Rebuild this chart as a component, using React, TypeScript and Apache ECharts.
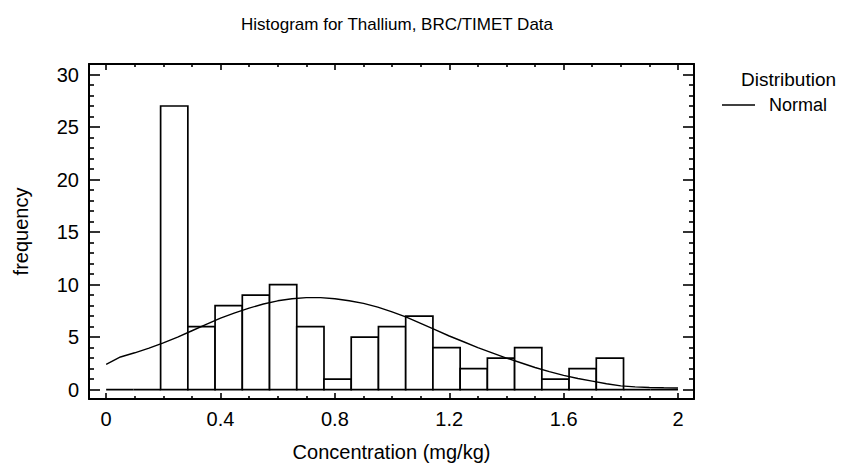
import React, { useEffect, useRef } from "react";
import * as echarts from "echarts";

// Histogram: 21 classes between 0 and 2 mg/kg
const classLow = 0;
const classHigh = 2;
const classCounts = [0, 0, 27, 6, 8, 9, 10, 6, 1, 5, 6, 7, 4, 2, 3, 4, 1, 2, 3, 0, 0];

// Fitted normal curve
const curveX = [0, 0.05, 0.1, 0.15, 0.2, 0.25, 0.3, 0.35, 0.4, 0.45, 0.5, 0.55, 0.6, 0.65, 0.7, 0.75, 0.8, 0.85, 0.9, 0.95, 1.0, 1.05, 1.1, 1.15, 1.2, 1.25, 1.3, 1.35, 1.4, 1.45, 1.5, 1.55, 1.6, 1.65, 1.7, 1.75, 1.8, 1.85, 1.9, 1.95, 2.0];
const curveY = [2.4, 3.1, 3.5, 3.95, 4.45, 5.0, 5.6, 6.2, 6.8, 7.3, 7.75, 8.15, 8.45, 8.65, 8.75, 8.75, 8.65, 8.45, 8.2, 7.85, 7.4, 6.9, 6.3, 5.7, 5.1, 4.55, 4.0, 3.5, 3.0, 2.55, 2.1, 1.7, 1.35, 1.05, 0.8, 0.55, 0.35, 0.25, 0.2, 0.17, 0.15];

const xMajorTicks = [0, 0.4, 0.8, 1.2, 1.6, 2];
const xMinorTicks = [0.1, 0.2, 0.3, 0.5, 0.6, 0.7, 0.9, 1.0, 1.1, 1.3, 1.4, 1.5, 1.7, 1.8, 1.9];
const yMajorTicks = [0, 5, 10, 15, 20, 25, 30];
const yMinorTicks = [1, 2, 3, 4, 6, 7, 8, 9, 11, 12, 13, 14, 16, 17, 18, 19, 21, 22, 23, 24, 26, 27, 28, 29];

const titleText = "Histogram for Thallium, BRC/TIMET Data";
const xName = "Concentration (mg/kg)";
const yName = "frequency";
const legendTitle = "Distribution";
const seriesName = "Normal";

const FONT = "'Liberation Sans', Arial, sans-serif";

export default function App() {
  const ref = useRef<HTMLDivElement>(null);

  useEffect(() => {
    if (!ref.current) return;
    const chart = echarts.init(ref.current, undefined, { renderer: "svg" });

    const w = (classHigh - classLow) / classCounts.length;
    const histData = classCounts.map((c, i) => [classLow + i * w, classLow + (i + 1) * w, c]);
    const curveData = curveX.map((x, i) => [x, curveY[i]]);

    const xMin = -0.06, xMax = 2.056, yMin = -0.9, yMax = 31;
    const gridRect = { left: 89, top: 64, width: 605, height: 335 };
    const lineStyle = { color: "#000", width: 2 };
    const tickStyle = { color: "#000", width: 1.6 };

    const xBase = (grid: number, pos: string) => ({
      type: "value", gridIndex: grid, position: pos, min: xMin, max: xMax,
      splitLine: { show: false }, axisLabel: { show: false },
    });
    const yBase = (grid: number, pos: string) => ({
      type: "value", gridIndex: grid, position: pos, min: yMin, max: yMax,
      splitLine: { show: false }, axisLabel: { show: false },
    });

    chart.setOption({
      animation: false,
      backgroundColor: "#fff",
      title: [
        {
          text: titleText, left: 392, top: 11, textAlign: "center",
          textStyle: { fontFamily: FONT, fontSize: 17, fontWeight: "normal", color: "#000" },
        },
        {
          text: legendTitle, left: 736, top: 65,
          textStyle: { fontFamily: FONT, fontSize: 19, fontWeight: "normal", color: "#000" },
        },
      ],
      legend: {
        data: [seriesName], left: 717, top: 91, icon: "rect", itemWidth: 33, itemHeight: 1.5,
        textStyle: { fontFamily: FONT, fontSize: 18, color: "#000", padding: [0, 0, 0, 9] },
      },
      grid: [ { ...gridRect }, { ...gridRect } ],
      xAxis: [
        {
          ...xBase(0, "bottom"),
          name: xName, nameLocation: "middle", nameGap: 43,
          nameTextStyle: { fontFamily: FONT, fontSize: 20, color: "#000" },
          axisLine: { show: true, onZero: false, lineStyle },
          axisTick: { show: true, inside: true, length: 6, lineStyle: tickStyle, customValues: xMajorTicks },
          axisLabel: { show: true, customValues: xMajorTicks, margin: 10, fontFamily: FONT, fontSize: 20, color: "#000" },
        },
        {
          ...xBase(0, "top"),
          axisLine: { show: true, onZero: false, lineStyle },
          axisTick: { show: true, inside: true, length: 6, lineStyle: tickStyle, customValues: xMajorTicks },
        },
        {
          ...xBase(1, "bottom"),
          axisLine: { show: false, onZero: false },
          axisTick: { show: true, inside: true, length: 3, lineStyle: tickStyle, customValues: xMinorTicks },
        },
        {
          ...xBase(1, "top"),
          axisLine: { show: false, onZero: false },
          axisTick: { show: true, inside: true, length: 3, lineStyle: tickStyle, customValues: xMinorTicks },
        },
      ],
      yAxis: [
        {
          ...yBase(0, "left"),
          name: yName, nameLocation: "middle", nameGap: 58,
          nameTextStyle: { fontFamily: FONT, fontSize: 20, color: "#000" },
          axisLine: { show: true, onZero: false, lineStyle },
          axisTick: { show: true, inside: true, length: 11, lineStyle: tickStyle, customValues: yMajorTicks },
          axisLabel: { show: true, customValues: yMajorTicks, margin: 10, fontFamily: FONT, fontSize: 20, color: "#000" },
        },
        {
          ...yBase(0, "right"),
          axisLine: { show: true, onZero: false, lineStyle },
          axisTick: { show: true, inside: true, length: 11, lineStyle: tickStyle, customValues: yMajorTicks },
        },
        {
          ...yBase(1, "left"),
          axisLine: { show: false, onZero: false },
          axisTick: { show: true, inside: true, length: 5, lineStyle: tickStyle, customValues: yMinorTicks },
        },
        {
          ...yBase(1, "right"),
          axisLine: { show: false, onZero: false },
          axisTick: { show: true, inside: true, length: 5, lineStyle: tickStyle, customValues: yMinorTicks },
        },
      ],
      series: [
        {
          type: "custom",
          name: "Histogram",
          xAxisIndex: 0,
          yAxisIndex: 0,
          data: histData,
          encode: { x: [0, 1], y: 2 },
          z: 2,
          renderItem: (_params: any, api: any) => {
            const p0 = api.coord([api.value(0), api.value(2)]);
            const p1 = api.coord([api.value(1), 0]);
            return {
              type: "rect",
              shape: { x: p0[0], y: p0[1], width: p1[0] - p0[0], height: p1[1] - p0[1] },
              style: { fill: "#fff", stroke: "#000", lineWidth: 1.7 },
            };
          },
        },
        {
          type: "line",
          name: seriesName,
          xAxisIndex: 0,
          yAxisIndex: 0,
          data: curveData,
          showSymbol: false,
          symbol: "none",
          z: 5,
          color: "#000",
          lineStyle: { color: "#000", width: 1.4 },
        },
      ],
    });

    return () => chart.dispose();
  }, []);

  return <div ref={ref} style={{ position: "fixed", left: 0, top: 0, width: 847, height: 468 }} />;
}
